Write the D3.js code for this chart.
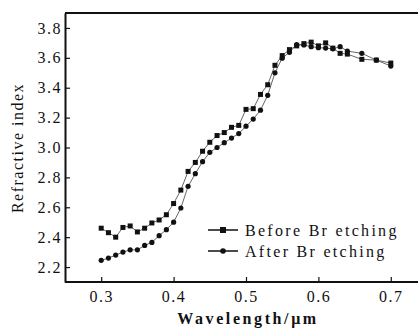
<!doctype html>
<html>
    <head>
        <meta charset="utf-8">
        <script src="https://cdn.jsdelivr.net/npm/d3@7/dist/d3.min.js"></script>
        <style>
            body{margin:0;background:#fff;}
            text{font-family:"Liberation Serif","Times New Roman",serif;fill:#111;}
        </style>
    </head>
    <body>
        <svg id="chart"></svg>
        <script>
            var width=418,height=329;
            var margin={top:13,left:65,bottom:47};
            // wavelengths in um
            var wavelength=[0.30,0.31,0.32,0.33,0.34,0.35,0.36,0.37,0.38,0.39,0.40,0.41,0.42,0.43,0.44,0.45,0.46,0.47,0.48,0.49,0.50,0.51,0.52,0.53,0.54,0.55,0.56,0.57,0.58,0.59,0.60,0.61,0.62,0.63,0.64,0.66,0.68,0.70];
            var before=[2.46,2.43,2.40,2.465,2.475,2.435,2.46,2.495,2.515,2.55,2.625,2.715,2.84,2.90,2.975,3.035,3.08,3.10,3.135,3.148,3.255,3.26,3.355,3.42,3.55,3.615,3.655,3.68,3.695,3.705,3.68,3.70,3.665,3.63,3.625,3.59,3.585,3.565];
            var after=[2.245,2.26,2.28,2.30,2.315,2.315,2.345,2.365,2.41,2.45,2.50,2.595,2.74,2.825,2.905,2.968,3.00,3.032,3.063,3.093,3.143,3.19,3.25,3.349,3.50,3.598,3.637,3.688,3.686,3.675,3.668,3.665,3.66,3.675,3.645,3.63,3.585,3.545];
            var xTicks=[0.3,0.4,0.5,0.6,0.7];
            var yTicks=[2.2,2.4,2.6,2.8,3.0,3.2,3.4,3.6,3.8];
            var seriesNames=["Before Br etching","After Br etching"];

            var x=d3.scaleLinear().domain([0.25,0.75]).range([margin.left,427]);
            var y=d3.scaleLinear().domain([2.1,3.9]).range([height-margin.bottom,margin.top]);

            var svg=d3.select("#chart").attr("width",width).attr("height",height);

            // top border
            svg.append("line").attr("x1",margin.left).attr("x2",width+10)
               .attr("y1",margin.top).attr("y2",margin.top)
               .attr("stroke","#111").attr("stroke-width",2);

            var xaxis=d3.axisBottom(x).tickValues(xTicks).tickFormat(d3.format(".1f"))
                        .tickSize(-5).tickSizeOuter(0).tickPadding(9);
            var yaxis=d3.axisLeft(y).tickValues(yTicks).tickFormat(d3.format(".1f"))
                        .tickSize(-5).tickSizeOuter(0).tickPadding(3);

            var gx=svg.append("g").attr("transform","translate(0,"+(height-margin.bottom)+")").call(xaxis);
            var gy=svg.append("g").attr("transform","translate("+margin.left+",0)").call(yaxis);
            gx.select(".domain").attr("d","M"+margin.left+",0H"+(width+10));
            [gx,gy].forEach(g=>{
                g.select(".domain").attr("stroke","#111").attr("stroke-width",2);
                g.selectAll(".tick line").attr("stroke","#111").attr("stroke-width",1.2);
                g.selectAll(".tick text").attr("fill","#111")
                 .style("font-family","'Liberation Serif',serif").style("font-size","16px")
                 .style("letter-spacing","1.5px");
            });

            svg.append("text").attr("x",248).attr("y",324).attr("text-anchor","middle")
               .style("font-size","16px").style("font-weight","bold").style("letter-spacing","2.6px")
               .text("Wavelength/μm");
            svg.append("text").attr("transform","translate(23,148) rotate(-90)").attr("text-anchor","middle")
               .style("font-size","16px").style("letter-spacing","1.5px")
               .text("Refractive index");

            var line=d3.line().x((d,i)=>x(wavelength[i])).y(d=>y(d));
            [before,after].forEach((s,k)=>{
                svg.append("path").datum(s).attr("d",line)
                   .attr("fill","none").attr("stroke","#666").attr("stroke-width",1);
            });
            svg.selectAll("rect.before").data(before).enter().append("rect").attr("class","before")
               .attr("x",(d,i)=>x(wavelength[i])-2.5).attr("y",d=>y(d)-2.5)
               .attr("width",5).attr("height",5).attr("fill","#111");
            svg.selectAll("circle.after").data(after).enter().append("circle").attr("class","after")
               .attr("cx",(d,i)=>x(wavelength[i])).attr("cy",d=>y(d))
               .attr("r",2.6).attr("fill","#111");

            // legend
            var leg=svg.append("g");
            seriesNames.forEach((name,k)=>{
                var ly=230+k*21;
                leg.append("line").attr("x1",208).attr("x2",238).attr("y1",ly).attr("y2",ly)
                   .attr("stroke","#111").attr("stroke-width",1.5);
                if(k===0){
                    leg.append("rect").attr("x",220).attr("y",ly-3).attr("width",6).attr("height",6).attr("fill","#111");
                }else{
                    leg.append("circle").attr("cx",223).attr("cy",ly).attr("r",2.8).attr("fill","#111");
                }
                leg.append("text").attr("x",245).attr("y",ly+5.5)
                   .style("font-size","16px").style("letter-spacing","2.3px").text(name);
            });
        </script>
    </body>
</html>
